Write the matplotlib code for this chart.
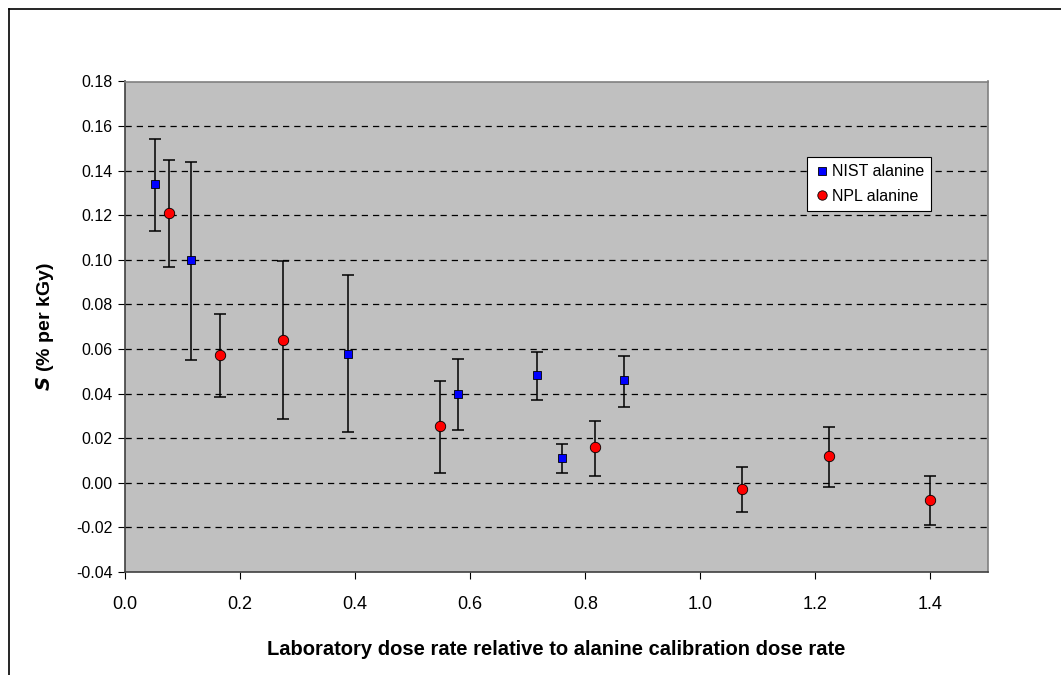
import matplotlib
matplotlib.use("Agg")
import matplotlib.pyplot as plt
import numpy as np
from matplotlib.lines import Line2D

plt.rcParams['font.family'] = ['Liberation Sans', 'DejaVu Sans']

# NIST alanine
nist_x = [0.053, 0.115, 0.387, 0.578, 0.716, 0.760, 0.867]
nist_y = [0.134, 0.100, 0.058, 0.040, 0.0485, 0.011, 0.046]
nist_lo = [0.113, 0.055, 0.023, 0.0236, 0.0372, 0.0044, 0.034]
nist_hi = [0.154, 0.144, 0.093, 0.0557, 0.0587, 0.0174, 0.0568]

# NPL alanine
npl_x = [0.077, 0.165, 0.275, 0.548, 0.817, 1.072, 1.223, 1.400]
npl_y = [0.121, 0.0575, 0.064, 0.0257, 0.016, -0.0026, 0.012, -0.0075]
npl_lo = [0.0968, 0.0385, 0.0285, 0.0045, 0.0032, -0.013, -0.002, -0.019]
npl_hi = [0.1448, 0.0759, 0.0995, 0.0455, 0.0279, 0.007, 0.025, 0.003]

xticks = [0.0, 0.2, 0.4, 0.6, 0.8, 1.0, 1.2, 1.4]
yticks = [-0.04, -0.02, 0.00, 0.02, 0.04, 0.06, 0.08, 0.10, 0.12, 0.14, 0.16, 0.18]

W, H = 1061, 675
fig = plt.figure(figsize=(W / 100, H / 100), dpi=100)
ax = fig.add_axes([125 / W, 1 - 572 / H, (988 - 125) / W, (572 - 81.5) / H])
ax.set_facecolor('#C0C0C0')

def draw(x, y, lo, hi, marker, color, ms, label):
    x = np.array(x); y = np.array(y)
    yerr = np.vstack([y - np.array(lo), np.array(hi) - y])
    ax.errorbar(x, y, yerr=yerr, fmt='none', ecolor='black', elinewidth=1.1,
                capsize=4.5, capthick=1.1, zorder=3)
    ax.plot(x, y, linestyle='none', marker=marker, markersize=ms,
            markerfacecolor=color, markeredgecolor='black', markeredgewidth=0.6,
            zorder=4, label=label)

draw(nist_x, nist_y, nist_lo, nist_hi, 's', '#0000FF', 6, 'NIST alanine')
draw(npl_x, npl_y, npl_lo, npl_hi, 'o', '#FF0000', 7.5, 'NPL alanine')

ax.set_xlim(0, 1.5)
ax.set_ylim(-0.04, 0.18)
ax.set_xticks(xticks)
ax.set_xticklabels([f"{v:.1f}" for v in xticks])
ax.set_yticks(yticks)
ax.set_yticklabels([f"{v:.2f}" for v in yticks])
for v in yticks[1:-1]:
    ax.axhline(v, color='black', linestyle=(0, (5, 4)), linewidth=0.9, zorder=1)

ax.tick_params(axis='both', direction='out', length=5, width=0.8, colors='black')
ax.tick_params(axis='y', labelsize=11.5, pad=4)
ax.tick_params(axis='x', labelsize=13, pad=12)
for s in ['left', 'bottom']:
    ax.spines[s].set_color('#404040')
    ax.spines[s].set_linewidth(1.2)
for s in ['top', 'right']:
    ax.spines[s].set_color('#808080')
    ax.spines[s].set_linewidth(1.2)

ax.set_xlabel('Laboratory dose rate relative to alanine calibration dose rate',
              fontsize=14.5, fontweight='bold', labelpad=20)
ax.set_ylabel(r'$\bfit{S}$ (% per kGy)', fontsize=14, fontweight='bold', labelpad=14)

leg = ax.legend(loc='upper left', bbox_to_anchor=(0.79, 0.846), frameon=True,
                fancybox=False, edgecolor='black', framealpha=1, fontsize=11.5,
                handletextpad=0.1, handlelength=1.0, borderpad=0.45, labelspacing=0.6,
                borderaxespad=0, markerscale=0.9)
leg.get_frame().set_linewidth(0.8)

# outer border
fig.add_artist(Line2D([9 / W, 9 / W], [0, 1 - 9 / H], transform=fig.transFigure,
                      color='black', linewidth=1.2))
fig.add_artist(Line2D([9 / W, 1], [1 - 9 / H, 1 - 9 / H], transform=fig.transFigure,
                      color='black', linewidth=1.2))

fig.savefig('out.png', dpi=100)
